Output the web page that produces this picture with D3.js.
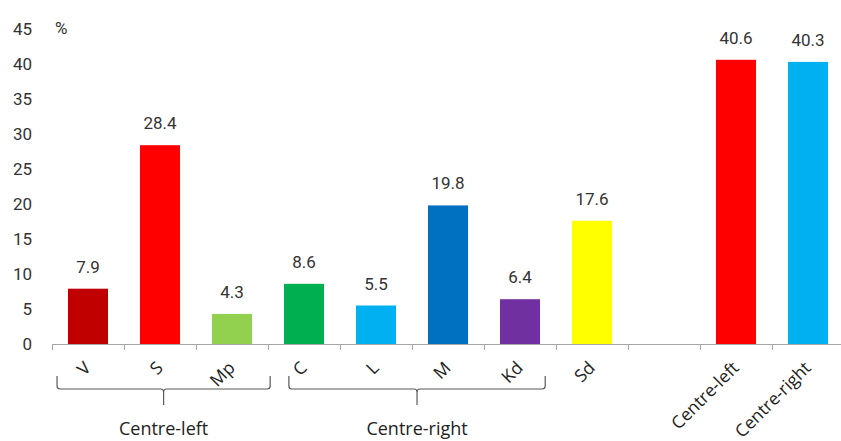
<!DOCTYPE html>
<html>
<head>
<meta charset="utf-8">
<script src="https://cdn.jsdelivr.net/npm/d3@7"></script>
<style>
  html, body { margin: 0; padding: 0; background: #fff; }
  svg { display: block; }
</style>
</head>
<body>
<svg id="chart" width="841" height="441"></svg>
<script>
// Party vote shares (%) and the two bloc totals
const categories = ["V", "S", "Mp", "C", "L", "M", "Kd", "Sd", "", "Centre-left", "Centre-right"];
const values     = [7.9, 28.4, 4.3, 8.6, 5.5, 19.8, 6.4, 17.6, null, 40.6, 40.3];
const colors     = ["#C00000", "#FF0000", "#92D050", "#00B050", "#00B0F0", "#0070C0", "#7030A0", "#FFFF00", null, "#FF0000", "#00B0F0"];
const yTicks     = [0, 5, 10, 15, 20, 25, 30, 35, 40, 45];
const unitLabel  = "%";

// Bloc brackets under the axis, spanning category slots (in slot units)
const groups = [
  { name: "Centre-left",  from: 0.07, to: 3.03 },
  { name: "Centre-right", from: 3.29, to: 6.85 }
];

const numFont = "Roboto, 'Noto Sans', sans-serif";
const labFont = "'Open Sans', 'Noto Sans', sans-serif";

const svg = d3.select("#chart");
const axisY = 344;

const x = d3.scaleBand()
  .domain(d3.range(categories.length))
  .range([52, 52 + 72 * categories.length])
  .paddingInner(0.444)
  .paddingOuter(0.222);

const y = d3.scaleLinear().domain([0, 45]).range([axisY, axisY - 315]);

// Y axis labels (no axis line)
const yAxis = d3.axisLeft(y).tickValues(yTicks).tickSize(0).tickPadding(0);
svg.append("g")
  .attr("transform", "translate(32,0)")
  .call(yAxis)
  .call(g => g.select(".domain").remove())
  .call(g => g.selectAll("text")
    .attr("font-family", numFont)
    .attr("font-size", 17)
    .attr("fill", "#333"));

svg.append("text")
  .attr("x", 55).attr("y", y(45) + 5)
  .attr("font-family", numFont).attr("font-size", 17).attr("fill", "#333")
  .text(unitLabel);

const data = categories.map((c, i) => ({ i, c, v: values[i], color: colors[i] }));

// Bars
svg.append("g").selectAll("rect")
  .data(data.filter(d => d.v != null))
  .join("rect")
  .attr("x", d => x(d.i))
  .attr("width", x.bandwidth())
  .attr("y", d => y(d.v))
  .attr("height", d => y(0) - y(d.v))
  .attr("fill", d => d.color);

// Value labels
svg.append("g").selectAll("text")
  .data(data.filter(d => d.v != null))
  .join("text")
  .attr("x", d => x(d.i) + x.bandwidth() / 2)
  .attr("y", d => y(d.v) - 16)
  .attr("text-anchor", "middle")
  .attr("font-family", numFont)
  .attr("font-size", 17)
  .attr("fill", "#333")
  .text(d => d.v.toFixed(1));

// Category axis line with ticks at slot boundaries
const step = x.step();
const boundary = i => x(0) - (step - x.bandwidth()) / 2 + i * step;
const axisG = svg.append("g");
axisG.append("line")
  .attr("x1", boundary(0)).attr("x2", 841)
  .attr("y1", axisY + 0.5).attr("y2", axisY + 0.5)
  .attr("stroke", "#a6a6a6").attr("stroke-width", 1);
axisG.selectAll("line.tick")
  .data(d3.range(categories.length + 1))
  .join("line")
  .attr("class", "tick")
  .attr("x1", i => boundary(i) + 0.5).attr("x2", i => boundary(i) + 0.5)
  .attr("y1", axisY).attr("y2", axisY + 6)
  .attr("stroke", "#a6a6a6").attr("stroke-width", 1);

// Rotated category labels
svg.append("g").selectAll("text")
  .data(data.filter(d => d.c !== ""))
  .join("text")
  .attr("transform", d => `translate(${x(d.i) + x.bandwidth() / 2 + 4},369) rotate(-45)`)
  .attr("text-anchor", "end")
  .attr("font-family", labFont)
  .attr("font-size", 17.5)
  .attr("fill", "#222")
  .text(d => d.c);

// Bloc brackets
const slotX = s => boundary(0) + s * step;
const br = svg.append("g").attr("fill", "none").attr("stroke", "#595959").attr("stroke-width", 1.2);
groups.forEach(g => {
  const l = slotX(g.from), r = slotX(g.to), m = (l + r) / 2;
  const top = 376, hy = 389, bot = 405, rc = 3;
  const p = d3.path();
  p.moveTo(l, top);
  p.lineTo(l, hy - rc);
  p.quadraticCurveTo(l, hy, l + rc, hy);
  p.lineTo(m - rc, hy);
  p.quadraticCurveTo(m, hy, m, hy + rc);
  p.lineTo(m, bot);
  p.moveTo(m, hy + rc);
  p.quadraticCurveTo(m, hy, m + rc, hy);
  p.lineTo(r - rc, hy);
  p.quadraticCurveTo(r, hy, r, hy - rc);
  p.lineTo(r, top);
  br.append("path").attr("d", p.toString());
  svg.append("text")
    .attr("x", m).attr("y", 435)
    .attr("text-anchor", "middle")
    .attr("font-family", labFont)
    .attr("font-size", 18)
    .attr("fill", "#222")
    .text(g.name);
});
</script>
</body>
</html>
